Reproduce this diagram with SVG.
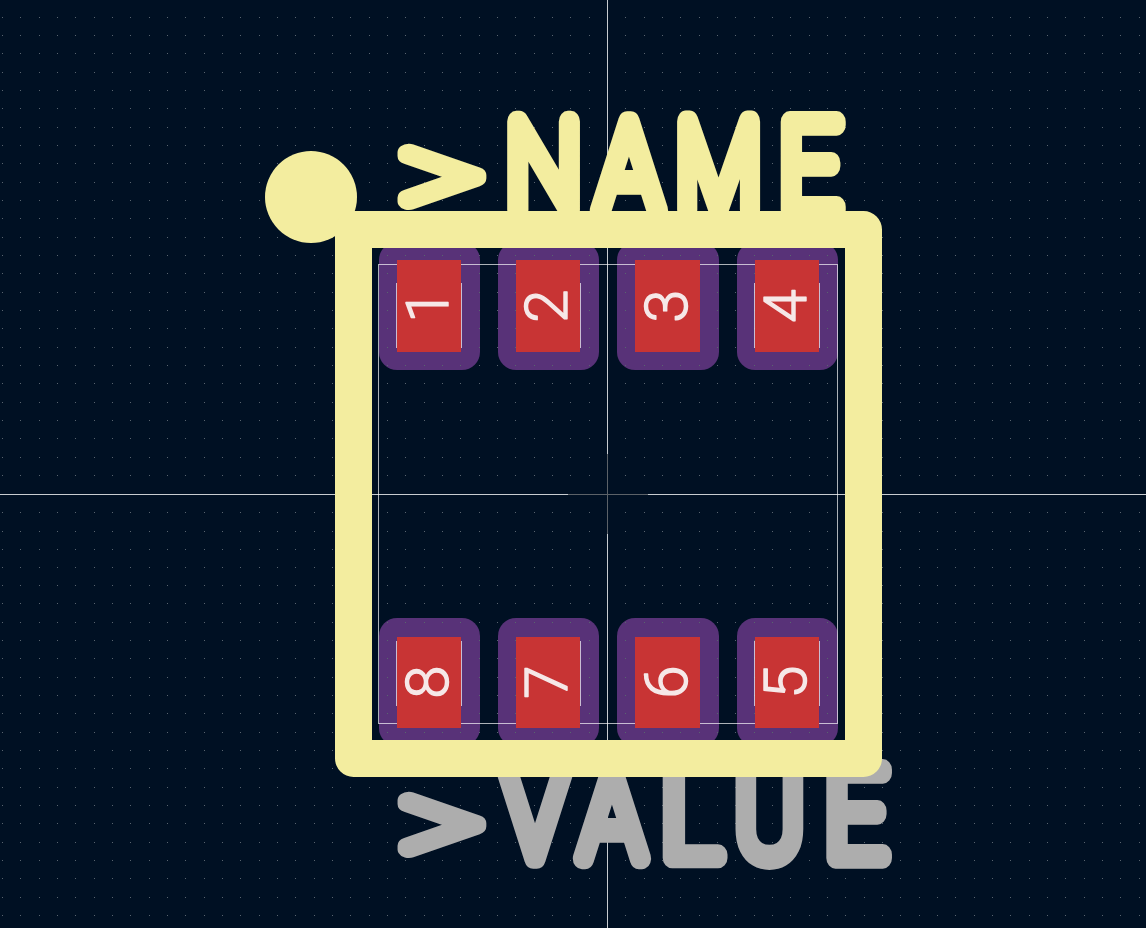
<svg xmlns="http://www.w3.org/2000/svg" width="1146" height="928" viewBox="0 0 1146 928">
<style>
.dots{fill:none;stroke:#59646f;stroke-width:1;stroke-dasharray:1 17.333;shape-rendering:crispEdges}
.pur{fill:#583278}
.red{fill:#c83434}
.fab{fill:none;stroke:#fff;stroke-opacity:.68;stroke-width:1;shape-rendering:crispEdges}
.cross{fill:none;stroke:#c8ccd0;stroke-width:1;shape-rendering:crispEdges}
.crossc{fill:none;stroke:#5c6268;stroke-width:1;shape-rendering:crispEdges}
.big{font-family:Roboto,Inter,"Liberation Sans",sans-serif;font-weight:100;font-size:125px;text-anchor:middle;stroke-width:20px;stroke-linejoin:round;stroke-linecap:round}
.big text{vector-effect:non-scaling-stroke}
.nm{fill:#f3ed9f;stroke:#f3ed9f}
.vl{fill:#adadad;stroke:#adadad}
.num{font-family:Roboto,Inter,"Liberation Sans",sans-serif;font-weight:300;font-size:60px;text-anchor:middle;fill:#f6e8e8;stroke:#f6e8e8;stroke-width:1.4px;stroke-linejoin:round}
</style>
<rect width="1146" height="928" fill="#001023"/>
<g id="pads-back">
<rect class="pur" x="379" y="242" width="101" height="128" rx="18"/>
<rect class="pur" x="498" y="242" width="101" height="128" rx="18"/>
<rect class="pur" x="617" y="242" width="102" height="128" rx="18"/>
<rect class="pur" x="737" y="242" width="101" height="128" rx="18"/>
<rect class="pur" x="379" y="618" width="101" height="128" rx="18"/>
<rect class="pur" x="498" y="618" width="101" height="128" rx="18"/>
<rect class="pur" x="617" y="618" width="102" height="128" rx="18"/>
<rect class="pur" x="737" y="618" width="101" height="128" rx="18"/>
</g>
<path class="dots" d="M2 17.5H1146M2 35.5H1146M2 53.5H1146M2 72.5H1146M2 90.5H1146M2 108.5H1146M2 127.5H1146M2 145.5H1146M2 163.5H1146M2 182.5H1146M2 200.5H1146M2 218.5H1146M2 237.5H1146M2 255.5H1146M2 273.5H1146M2 292.5H1146M2 310.5H1146M2 328.5H1146M2 347.5H1146M2 365.5H1146M2 383.5H1146M2 402.5H1146M2 420.5H1146M2 438.5H1146M2 457.5H1146M2 475.5H1146M2 512.5H1146M2 531.5H1146M2 549.5H1146M2 567.5H1146M2 585.5H1146M2 603.5H1146M2 622.5H1146M2 640.5H1146M2 658.5H1146M2 677.5H1146M2 695.5H1146M2 713.5H1146M2 732.5H1146M2 750.5H1146M2 768.5H1146M2 787.5H1146M2 805.5H1146M2 823.5H1146M2 842.5H1146M2 860.5H1146M2 878.5H1146M2 897.5H1146M2 915.5H1146"/>
<g id="crosshair">
<path class="cross" d="M607.5 0V454M607.5 534V928M0 494.5H568M648 494.5H1146"/>
<path class="crossc" d="M607.5 454V534M568 494.5H648"/>
</g>
<g id="fab-outline">
<rect class="fab" x="378.5" y="264.5" width="459" height="459"/>
<path class="fab" d="M396.5 283V348M461.5 283V348M580.5 283V348M754.5 283V348M819.5 283V348M396.5 641V706M461.5 641V706M580.5 641V706M754.5 641V706M819.5 641V706"/>
</g>
<g id="value-text" class="big vl">
<text transform="translate(441.5 866) scale(1.3 1)">&gt;</text>
<text transform="translate(535 858) scale(.85 1)">V</text>
<text transform="translate(612 858) scale(.85 1)">A</text>
<text transform="translate(691 858) scale(.93 1)">L</text>
<text transform="translate(769.5 858) scale(.82 1)">U</text>
<text transform="translate(856 858) scale(.87 1)">E</text>
</g>
<g id="name-text" class="big nm">
<text transform="translate(441.5 218) scale(1.3 1)">&gt;</text>
<text transform="translate(543.5 210) scale(.85 1)">N</text>
<text transform="translate(629 210) scale(.85 1)">A</text>
<text transform="translate(718.5 210) scale(.79 1)">M</text>
<text transform="translate(810 210) scale(.86 1)">E</text>
</g>
<g id="red-pads">
<rect class="red" x="397" y="260" width="64" height="92"/>
<rect class="red" x="516" y="260" width="64" height="92"/>
<rect class="red" x="635" y="260" width="65" height="92"/>
<rect class="red" x="755" y="260" width="64" height="92"/>
<rect class="red" x="397" y="637" width="64" height="91"/>
<rect class="red" x="516" y="637" width="64" height="91"/>
<rect class="red" x="635" y="637" width="65" height="91"/>
<rect class="red" x="755" y="637" width="64" height="91"/>
</g>
<g id="silkscreen" fill="#f3ed9f">
<circle cx="311" cy="197" r="46"/>
<rect x="353.5" y="229.5" width="510" height="529" fill="none" stroke="#f3ed9f" stroke-width="37" stroke-linejoin="round"/>
</g>
<g id="pad-numbers" class="num">
<text transform="translate(448 306) rotate(-90)">1</text>
<text transform="translate(567 306) rotate(-90)">2</text>
<text transform="translate(687 306) rotate(-90)">3</text>
<text transform="translate(806 306) rotate(-90)">4</text>
<text transform="translate(448 682) rotate(-90)">8</text>
<text transform="translate(567 682) rotate(-90)">7</text>
<text transform="translate(687 682) rotate(-90)">6</text>
<text transform="translate(806 682) rotate(-90)">5</text>
</g>
</svg>
